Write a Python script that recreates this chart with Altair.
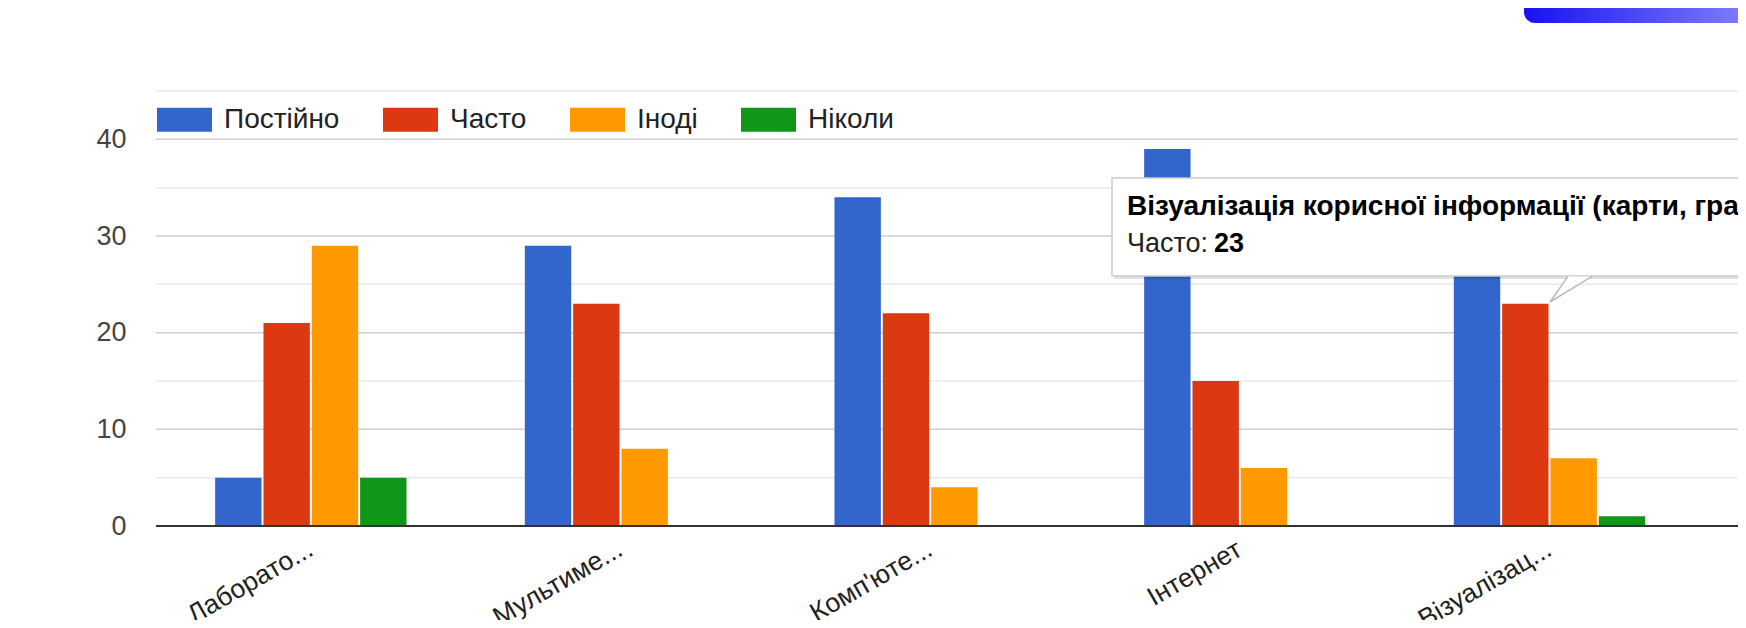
import altair as alt
import pandas as pd

# ---- data ----
categories = ["Лаборато...", "Мультиме...", "Комп'юте...", "Інтернет", "Візуалізац...", "К..."]
series = ["Постійно", "Часто", "Іноді", "Ніколи"]
colors = ["#3366cc", "#dc3912", "#ff9900", "#109618"]

postiyno = [5, 29, 34, 39, 29]
chasto = [21, 23, 22, 15, 23]
inodi = [29, 8, 4, 6, 7]
nikoly = [5, 0, 0, 0, 1]

y_ticks = [0, 10, 20, 30, 40]
grid_values = [5, 10, 15, 20, 25, 30, 35, 40, 45]

tooltip_title = "Візуалізація корисної інформації (карти, графіки)"
tooltip_series = "Часто: "
tooltip_value = "23"

FONT = "Liberation Sans, Arial, sans-serif"

rows = []
for s, vals in zip(series, [postiyno, chasto, inodi, nikoly]):
    for c, v in zip(categories, vals):
        rows.append({"category": c, "series": s, "value": v})
df = pd.DataFrame(rows)
grid_df = pd.DataFrame({"v": grid_values})
base_df = pd.DataFrame({"v": [0]})

W, H = 1582, 435
xscale = alt.Scale(domain=categories, range=[0, 1858], paddingInner=0.382, paddingOuter=0.191)
yscale = alt.Scale(domain=[0, 45], nice=False, zero=True)
y_axis = alt.Axis(values=y_ticks, grid=False, domain=False, ticks=False,
                  labelFontSize=27, labelColor="#444444", labelFont=FONT,
                  labelPadding=30)

grid = alt.Chart(grid_df).mark_rule(strokeWidth=1.5).encode(
    y=alt.Y("v:Q", scale=yscale, axis=y_axis, title=None),
    color=alt.condition(alt.datum.v % 10 == 0, alt.value("#cfcfcf"), alt.value("#e8e8e8")),
)

bars = alt.Chart(df).mark_bar().encode(
    x=alt.X("category:N", scale=xscale, sort=categories, title=None,
            axis=alt.Axis(labelAngle=-30, labelAlign="right", labelBaseline="middle",
                          labelFontSize=26.5, labelColor="#222222", labelFont=FONT,
                          ticks=False, domain=False, labelPadding=21,
                          labelOverlap=False, labelBound=False, labelLimit=0)),
    xOffset=alt.XOffset("series:N", scale=alt.Scale(domain=series, paddingInner=0.04), sort=series),
    y=alt.Y("value:Q", scale=yscale, title=None, axis=y_axis),
    color=alt.Color("series:N", scale=alt.Scale(domain=series, range=colors), sort=series,
                    legend=alt.Legend(orient="none", legendX=1, legendY=1, direction="horizontal",
                                      title=None, symbolType="M-1,-0.44H1V0.44H-1Z",
                                      symbolSize=3025, symbolStrokeWidth=0, symbolOpacity=1,
                                      labelFontSize=28, labelFont=FONT, labelOffset=12,
                                      columnPadding=43, labelColor="#222222")),
)

baseline = alt.Chart(base_df).mark_rule(strokeWidth=2, color="#333333").encode(
    y=alt.Y("v:Q", scale=yscale, axis=y_axis, title=None)
)

# tooltip (annotation in the reference screenshot)
tip_df = pd.DataFrame({"t": [tooltip_title]})
tip_shadow = alt.Chart(tip_df).mark_rect(fill="#000000", opacity=0.12).encode(
    x=alt.value(958), x2=alt.value(1700), y=alt.value(89), y2=alt.value(188))
tip_box = alt.Chart(tip_df).mark_rect(fill="white", stroke="#cccccc", strokeWidth=1.5).encode(
    x=alt.value(956), x2=alt.value(1700), y=alt.value(87), y2=alt.value(185))
tip_tail = alt.Chart(tip_df).mark_point(
    shape="M0.45,-0.64 L0,0 L1.05,-0.64", filled=True, fill="white", stroke="#bbbbbb",
    strokeWidth=1.5, opacity=1, size=6400).encode(x=alt.value(1394), y=alt.value(211))
tip_t1 = alt.Chart(tip_df).mark_text(align="left", baseline="alphabetic", fontSize=28,
                                     fontWeight="bold", font=FONT, color="#000000").encode(
    x=alt.value(971), y=alt.value(124), text="t:N")
tip_t2 = alt.Chart(tip_df).mark_text(align="left", baseline="alphabetic", fontSize=27,
                                     font=FONT, color="#222222").encode(
    x=alt.value(971), y=alt.value(161), text=alt.value(tooltip_series))
tip_t3 = alt.Chart(tip_df).mark_text(align="left", baseline="alphabetic", fontSize=27,
                                     fontWeight="bold", font=FONT, color="#000000").encode(
    x=alt.value(1058), y=alt.value(161), text=alt.value(tooltip_value))

# decorative slide corner shape (top right)
corner = alt.Chart(tip_df).mark_rect(
    cornerRadiusBottomLeft=16,
    fill=alt.Gradient(gradient="linear",
                      stops=[alt.GradientStop(color="#1712ee", offset=0),
                             alt.GradientStop(color="#8c8cff", offset=1)],
                      x1=0, x2=1, y1=0, y2=0)).encode(
    x=alt.value(1368), x2=alt.value(1620), y=alt.value(-90), y2=alt.value(-68))

chart = alt.layer(grid, bars, baseline, tip_shadow, tip_box, tip_tail, tip_t1, tip_t2, tip_t3, corner).properties(
    width=W, height=H,
    autosize=alt.AutoSizeParams(type="none"),
    padding={"left": 148, "top": 83, "right": 0, "bottom": 94},
    background="white",
).configure_view(stroke=None)

chart.save("out.html", embed_options={"renderer": "svg", "actions": False})
